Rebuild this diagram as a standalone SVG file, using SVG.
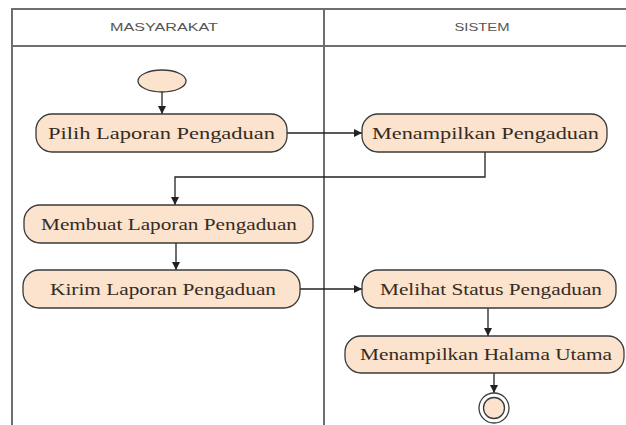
<svg xmlns="http://www.w3.org/2000/svg" width="626" height="425" viewBox="0 0 626 425">
  <style>
    .lane { stroke: #6e6e6e; stroke-width: 2; fill: none; }
    .hdr { font-family: "Liberation Sans", Arial, sans-serif; font-size: 11.5px; fill: #555; }
    .box { fill: #fce3cd; stroke: #3a3a3a; stroke-width: 1.3; }
    .lbl { font-family: "Liberation Serif", "Times New Roman", serif; font-size: 17px; fill: #352b23; }
    .conn { stroke: #222; stroke-width: 1.3; fill: none; marker-end: url(#arr); }
  </style>
  <defs>
    <marker id="arr" markerUnits="userSpaceOnUse" markerWidth="10" markerHeight="10" refX="8" refY="4" orient="auto">
      <path d="M0,0 L8,4 L0,8 Z" fill="#222"/>
    </marker>
  </defs>
  <rect width="626" height="425" fill="#fff"/>

  <g id="swimlanes">
    <path class="lane" d="M12,425 V9 H626 M12,46 H626 M324,9 V425"/>
    <text class="hdr" x="164" y="31" text-anchor="middle" textLength="108" lengthAdjust="spacingAndGlyphs">MASYARAKAT</text>
    <text class="hdr" x="482" y="31" text-anchor="middle" textLength="55" lengthAdjust="spacingAndGlyphs">SISTEM</text>
  </g>

  <g id="connectors">
    <path class="conn" d="M162,92 V114"/>
    <path class="conn" d="M287,133 H362"/>
    <path class="conn" d="M485,152 V177 H175 V205"/>
    <path class="conn" d="M176,243 V270"/>
    <path class="conn" d="M300,289 H362"/>
    <path class="conn" d="M488,308 V336"/>
    <path class="conn" d="M494,373 V393"/>
  </g>

  <g id="start">
    <ellipse class="box" cx="162" cy="81" rx="24" ry="11"/>
  </g>

  <g id="pilih">
    <rect class="box" x="36" y="114" width="251" height="38" rx="16"/>
    <text class="lbl" x="161.5" y="139" text-anchor="middle" textLength="227" lengthAdjust="spacingAndGlyphs">Pilih Laporan Pengaduan</text>
  </g>

  <g id="menampilkan">
    <rect class="box" x="362" y="114" width="245" height="38" rx="16"/>
    <text class="lbl" x="485.5" y="139" text-anchor="middle" textLength="227" lengthAdjust="spacingAndGlyphs">Menampilkan Pengaduan</text>
  </g>

  <g id="membuat">
    <rect class="box" x="24" y="205" width="289" height="38" rx="16"/>
    <text class="lbl" x="169" y="230" text-anchor="middle" textLength="256" lengthAdjust="spacingAndGlyphs">Membuat Laporan Pengaduan</text>
  </g>

  <g id="kirim">
    <rect class="box" x="23" y="270" width="277" height="38" rx="16"/>
    <text class="lbl" x="163" y="295" text-anchor="middle" textLength="226" lengthAdjust="spacingAndGlyphs">Kirim Laporan Pengaduan</text>
  </g>

  <g id="melihat">
    <rect class="box" x="362" y="270" width="254" height="38" rx="16"/>
    <text class="lbl" x="491" y="295" text-anchor="middle" textLength="222" lengthAdjust="spacingAndGlyphs">Melihat Status Pengaduan</text>
  </g>

  <g id="halama">
    <rect class="box" x="345" y="336" width="279" height="37" rx="16"/>
    <text class="lbl" x="486" y="360" text-anchor="middle" textLength="252" lengthAdjust="spacingAndGlyphs">Menampilkan Halama Utama</text>
  </g>

  <g id="end">
    <ellipse cx="494" cy="408" rx="15" ry="15" fill="#fff" stroke="#3a3a3a" stroke-width="1.3"/>
    <ellipse class="box" cx="494" cy="408" rx="10.5" ry="10.5"/>
  </g>
</svg>
